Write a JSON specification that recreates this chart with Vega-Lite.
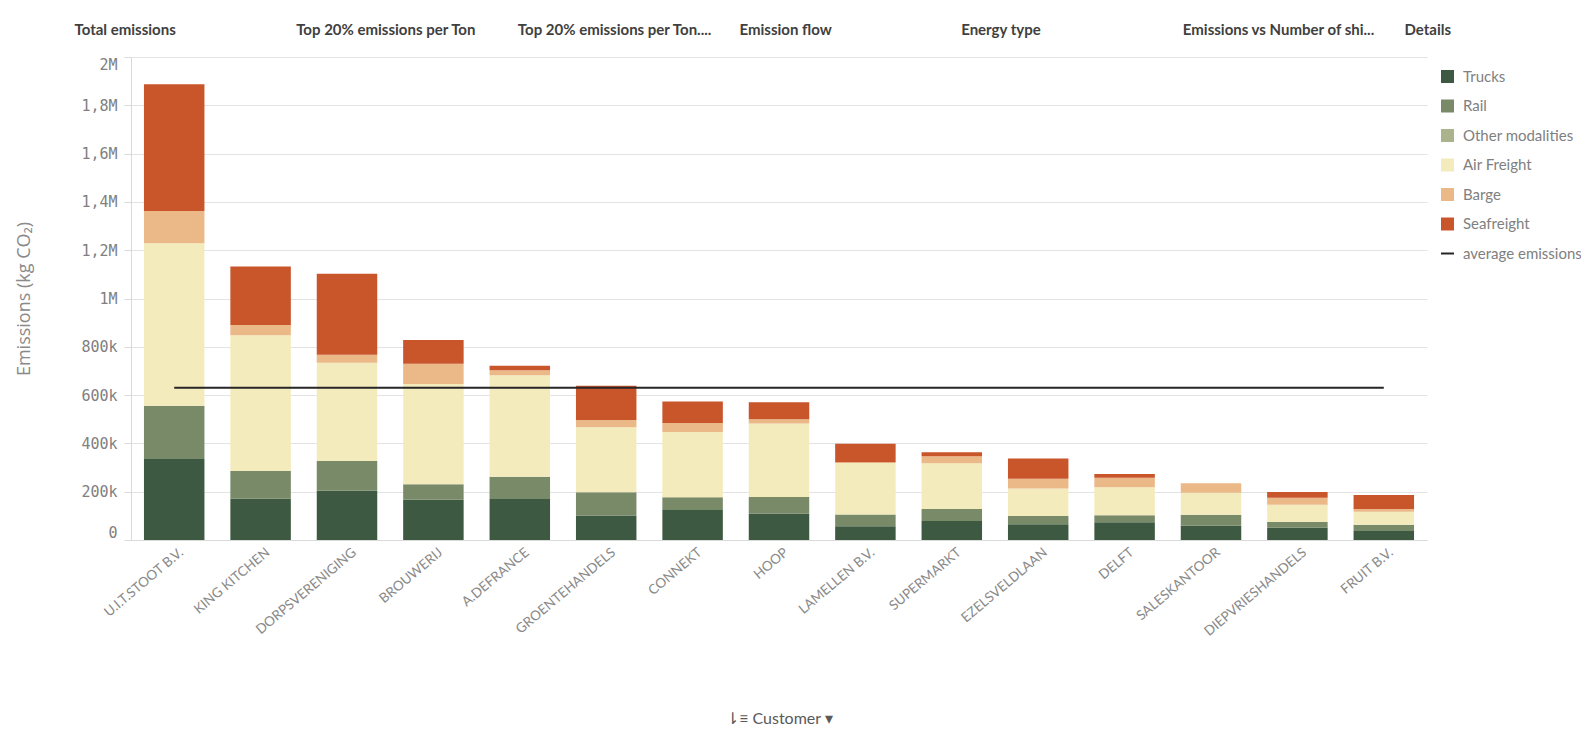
{
  "$schema": "https://vega.github.io/schema/vega-lite/v6.json",
  "autosize": "none",
  "width": 1296,
  "height": 483,
  "padding": {"left": 131, "top": 57, "right": 154, "bottom": 194},
  "background": "white",
  "config": {"view": {"stroke": null}, "font": "Lato"},
  "datasets": {
    "tabs": [
      {"tab": "Total emissions"},
      {"tab": "Top 20% emissions per Ton"},
      {"tab": "Top 20% emissions per Ton...."},
      {"tab": "Emission flow"},
      {"tab": "Energy type"},
      {"tab": "Emissions vs Number of shi..."},
      {"tab": "Details"}
    ],
    "emissions": [
      {"customer": "U.I.T.STOOT B.V.", "series": "Trucks", "value": 335000},
      {"customer": "U.I.T.STOOT B.V.", "series": "Rail", "value": 221000},
      {"customer": "U.I.T.STOOT B.V.", "series": "Air Freight", "value": 673000},
      {"customer": "U.I.T.STOOT B.V.", "series": "Barge", "value": 133000},
      {"customer": "U.I.T.STOOT B.V.", "series": "Seafreight", "value": 525000},
      {"customer": "KING KITCHEN", "series": "Trucks", "value": 171000},
      {"customer": "KING KITCHEN", "series": "Rail", "value": 115000},
      {"customer": "KING KITCHEN", "series": "Air Freight", "value": 562000},
      {"customer": "KING KITCHEN", "series": "Barge", "value": 42000},
      {"customer": "KING KITCHEN", "series": "Seafreight", "value": 243000},
      {"customer": "DORPSVERENIGING", "series": "Trucks", "value": 204000},
      {"customer": "DORPSVERENIGING", "series": "Rail", "value": 123000},
      {"customer": "DORPSVERENIGING", "series": "Air Freight", "value": 407000},
      {"customer": "DORPSVERENIGING", "series": "Barge", "value": 33000},
      {"customer": "DORPSVERENIGING", "series": "Seafreight", "value": 336000},
      {"customer": "BROUWERIJ", "series": "Trucks", "value": 167000},
      {"customer": "BROUWERIJ", "series": "Rail", "value": 64000},
      {"customer": "BROUWERIJ", "series": "Air Freight", "value": 415000},
      {"customer": "BROUWERIJ", "series": "Barge", "value": 84000},
      {"customer": "BROUWERIJ", "series": "Seafreight", "value": 98000},
      {"customer": "A.DEFRANCE", "series": "Trucks", "value": 170000},
      {"customer": "A.DEFRANCE", "series": "Rail", "value": 92000},
      {"customer": "A.DEFRANCE", "series": "Air Freight", "value": 420000},
      {"customer": "A.DEFRANCE", "series": "Barge", "value": 21000},
      {"customer": "A.DEFRANCE", "series": "Seafreight", "value": 19000},
      {"customer": "GROENTEHANDELS", "series": "Trucks", "value": 101000},
      {"customer": "GROENTEHANDELS", "series": "Rail", "value": 97000},
      {"customer": "GROENTEHANDELS", "series": "Air Freight", "value": 269000},
      {"customer": "GROENTEHANDELS", "series": "Barge", "value": 30000},
      {"customer": "GROENTEHANDELS", "series": "Seafreight", "value": 142000},
      {"customer": "CONNEKT", "series": "Trucks", "value": 124000},
      {"customer": "CONNEKT", "series": "Rail", "value": 53000},
      {"customer": "CONNEKT", "series": "Air Freight", "value": 270000},
      {"customer": "CONNEKT", "series": "Barge", "value": 37000},
      {"customer": "CONNEKT", "series": "Seafreight", "value": 90000},
      {"customer": "HOOP", "series": "Trucks", "value": 109000},
      {"customer": "HOOP", "series": "Rail", "value": 69000},
      {"customer": "HOOP", "series": "Air Freight", "value": 304000},
      {"customer": "HOOP", "series": "Barge", "value": 18000},
      {"customer": "HOOP", "series": "Seafreight", "value": 70000},
      {"customer": "LAMELLEN B.V.", "series": "Trucks", "value": 57000},
      {"customer": "LAMELLEN B.V.", "series": "Rail", "value": 49000},
      {"customer": "LAMELLEN B.V.", "series": "Air Freight", "value": 213000},
      {"customer": "LAMELLEN B.V.", "series": "Barge", "value": 3000},
      {"customer": "LAMELLEN B.V.", "series": "Seafreight", "value": 77000},
      {"customer": "SUPERMARKT", "series": "Trucks", "value": 79000},
      {"customer": "SUPERMARKT", "series": "Rail", "value": 49000},
      {"customer": "SUPERMARKT", "series": "Air Freight", "value": 190000},
      {"customer": "SUPERMARKT", "series": "Barge", "value": 29000},
      {"customer": "SUPERMARKT", "series": "Seafreight", "value": 16000},
      {"customer": "EZELSVELDLAAN", "series": "Trucks", "value": 65000},
      {"customer": "EZELSVELDLAAN", "series": "Rail", "value": 34000},
      {"customer": "EZELSVELDLAAN", "series": "Air Freight", "value": 114000},
      {"customer": "EZELSVELDLAAN", "series": "Barge", "value": 41000},
      {"customer": "EZELSVELDLAAN", "series": "Seafreight", "value": 83000},
      {"customer": "DELFT", "series": "Trucks", "value": 73000},
      {"customer": "DELFT", "series": "Rail", "value": 29000},
      {"customer": "DELFT", "series": "Air Freight", "value": 116000},
      {"customer": "DELFT", "series": "Barge", "value": 40000},
      {"customer": "DELFT", "series": "Seafreight", "value": 15000},
      {"customer": "SALESKANTOOR", "series": "Trucks", "value": 59000},
      {"customer": "SALESKANTOOR", "series": "Rail", "value": 46000},
      {"customer": "SALESKANTOOR", "series": "Air Freight", "value": 91000},
      {"customer": "SALESKANTOOR", "series": "Barge", "value": 39000},
      {"customer": "DIEPVRIESHANDELS", "series": "Trucks", "value": 51000},
      {"customer": "DIEPVRIESHANDELS", "series": "Rail", "value": 24000},
      {"customer": "DIEPVRIESHANDELS", "series": "Air Freight", "value": 71000},
      {"customer": "DIEPVRIESHANDELS", "series": "Barge", "value": 29000},
      {"customer": "DIEPVRIESHANDELS", "series": "Seafreight", "value": 24000},
      {"customer": "FRUIT B.V.", "series": "Trucks", "value": 37000},
      {"customer": "FRUIT B.V.", "series": "Rail", "value": 26000},
      {"customer": "FRUIT B.V.", "series": "Air Freight", "value": 54000},
      {"customer": "FRUIT B.V.", "series": "Barge", "value": 11000},
      {"customer": "FRUIT B.V.", "series": "Seafreight", "value": 58000}
    ],
    "average": [
      {"customer": "U.I.T.STOOT B.V.", "series": "average emissions", "value": 630000},
      {"customer": "KING KITCHEN", "series": "average emissions", "value": 630000},
      {"customer": "DORPSVERENIGING", "series": "average emissions", "value": 630000},
      {"customer": "BROUWERIJ", "series": "average emissions", "value": 630000},
      {"customer": "A.DEFRANCE", "series": "average emissions", "value": 630000},
      {"customer": "GROENTEHANDELS", "series": "average emissions", "value": 630000},
      {"customer": "CONNEKT", "series": "average emissions", "value": 630000},
      {"customer": "HOOP", "series": "average emissions", "value": 630000},
      {"customer": "LAMELLEN B.V.", "series": "average emissions", "value": 630000},
      {"customer": "SUPERMARKT", "series": "average emissions", "value": 630000},
      {"customer": "EZELSVELDLAAN", "series": "average emissions", "value": 630000},
      {"customer": "DELFT", "series": "average emissions", "value": 630000},
      {"customer": "SALESKANTOOR", "series": "average emissions", "value": 630000},
      {"customer": "DIEPVRIESHANDELS", "series": "average emissions", "value": 630000},
      {"customer": "FRUIT B.V.", "series": "average emissions", "value": 630000}
    ]
  },
  "layer": [
    {
      "data": {"name": "tabs"},
      "mark": {"type": "point", "opacity": 0},
      "encoding": {
        "x": {
          "field": "tab", "type": "nominal", "sort": null,
          "scale": {"type": "point", "padding": 0, "range": [-57, 1273]},
          "axis": {
            "orient": "top", "title": null, "domain": false, "ticks": false, "tickSize": 0, "grid": false,
            "labelAngle": 0, "labelAlign": "left", "labelBaseline": "middle", "labelOffset": 0,
            "labelPadding": 28, "labelFontSize": 15, "labelFontWeight": "bold", "labelColor": "#404040",
            "labelFont": "Lato", "labelLimit": 400
          }
        }
      }
    },
    {
      "layer": [
        {
          "data": {"name": "emissions"},
          "transform": [
            {"calculate": "indexof(['Trucks','Rail','Other modalities','Air Freight','Barge','Seafreight'], datum.series)", "as": "stackorder"}
          ],
          "mark": {"type": "bar"},
          "encoding": {
            "x": {
              "field": "customer", "type": "nominal",
              "sort": ["U.I.T.STOOT B.V.", "KING KITCHEN", "DORPSVERENIGING", "BROUWERIJ", "A.DEFRANCE", "GROENTEHANDELS", "CONNEKT", "HOOP", "LAMELLEN B.V.", "SUPERMARKT", "EZELSVELDLAAN", "DELFT", "SALESKANTOOR", "DIEPVRIESHANDELS", "FRUIT B.V."],
              "scale": {"paddingInner": 0.3, "paddingOuter": 0.15},
              "axis": {
                "title": "⇂≡  Customer  ▾", "titleY": 178, "titleBaseline": "middle", "titleFontSize": 16,
                "titleFontWeight": "normal", "titleColor": "#595959", "titleFont": "Lato",
                "labelAngle": -40, "labelAlign": "right", "labelBaseline": "top", "labelPadding": 5, "labelOffset": 3,
                "labelFontSize": 13.5, "labelColor": "#8a8a8a", "labelFont": "Lato", "labelLimit": 300,
                "ticks": false, "domainColor": "#d9d9d9", "grid": false
              }
            },
            "y": {
              "field": "value", "type": "quantitative", "stack": "zero",
              "scale": {"domain": [0, 2000000]},
              "axis": {
                "title": "Emissions (kg CO₂)", "titleFontSize": 18, "titleFontWeight": "normal",
                "titleColor": "#8a8a8a", "titleFont": "Open Sans", "titleX": -107, "titleBaseline": "middle",
                "values": [0, 200000, 400000, 600000, 800000, 1000000, 1200000, 1400000, 1600000, 1800000, 2000000],
                "labelExpr": "replace(format(datum.value, '~s'), '.', ',')",
                "labelFont": "DejaVu Sans Mono", "labelFontSize": 15, "labelColor": "#808080",
                "labelPadding": 7, "tickSize": 7, "tickColor": "#d9d9d9", "domainColor": "#d9d9d9",
                "gridColor": "#e3e3e3", "labelFlush": true
              }
            },
            "color": {
              "field": "series", "type": "nominal",
              "scale": {
                "domain": ["Trucks", "Rail", "Other modalities", "Air Freight", "Barge", "Seafreight", "average emissions"],
                "range": ["#3d5941", "#798a68", "#aab38b", "#f4ebbd", "#ebb887", "#c9552b", "#262626"]
              },
              "legend": {
                "orient": "none", "legendX": 1309, "legendY": 12, "title": null, "padding": 0,
                "labelFontSize": 15, "labelColor": "#808080", "labelFont": "Lato", "labelOffset": 8,
                "symbolSize": 169, "symbolType": "square", "rowPadding": 13.5, "labelLimit": 300,
                "encode": {
                  "symbols": {
                    "update": {
                      "shape": {"signal": "datum.value === 'average emissions' ? 'stroke' : 'square'"},
                      "fill": {"signal": "scale('color', datum.value)"},
                      "stroke": {"signal": "datum.value === 'average emissions' ? '#262626' : scale('color', datum.value)"},
                      "strokeWidth": {"signal": "datum.value === 'average emissions' ? 2 : 0"},
                      "opacity": {"value": 1}
                    }
                  }
                }
              }
            },
            "order": {"field": "stackorder", "type": "quantitative", "sort": "ascending"}
          }
        },
        {
          "data": {"name": "average"},
          "mark": {"type": "line", "strokeWidth": 2},
          "encoding": {
            "x": {
              "field": "customer", "type": "nominal",
              "sort": ["U.I.T.STOOT B.V.", "KING KITCHEN", "DORPSVERENIGING", "BROUWERIJ", "A.DEFRANCE", "GROENTEHANDELS", "CONNEKT", "HOOP", "LAMELLEN B.V.", "SUPERMARKT", "EZELSVELDLAAN", "DELFT", "SALESKANTOOR", "DIEPVRIESHANDELS", "FRUIT B.V."]
            },
            "y": {"field": "value", "type": "quantitative"},
            "color": {"field": "series", "type": "nominal"}
          }
        }
      ]
    }
  ],
  "resolve": {"scale": {"x": "independent"}, "axis": {"x": "independent"}}
}
